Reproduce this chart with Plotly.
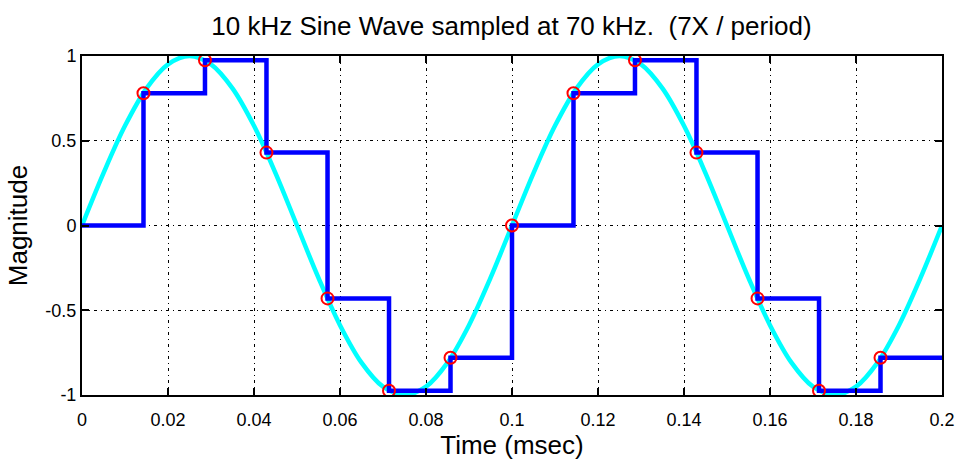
import plotly.graph_objects as go

# Continuous 10 kHz sine (time in msec), read every 0.005 ms
sine_t = [round(0.005 * i, 3) for i in range(41)]
sine_v = [0, 0.309, 0.588, 0.809, 0.951, 1, 0.951, 0.809, 0.588, 0.309,
          0, -0.309, -0.588, -0.809, -0.951, -1, -0.951, -0.809, -0.588, -0.309,
          0, 0.309, 0.588, 0.809, 0.951, 1, 0.951, 0.809, 0.588, 0.309,
          0, -0.309, -0.588, -0.809, -0.951, -1, -0.951, -0.809, -0.588, -0.309, 0]

# Samples at 70 kHz
sample_t = [0, 0.0143, 0.0286, 0.0429, 0.0571, 0.0714, 0.0857, 0.1,
            0.1143, 0.1286, 0.1429, 0.1571, 0.1714, 0.1857]
sample_v = [0, 0.78, 0.975, 0.43, -0.43, -0.975, -0.78, 0,
            0.78, 0.975, 0.43, -0.43, -0.975, -0.78]
end_t = 0.2

x_ticks = [0, 0.02, 0.04, 0.06, 0.08, 0.1, 0.12, 0.14, 0.16, 0.18, 0.2]
x_labels = ["0", "0.02", "0.04", "0.06", "0.08", "0.1", "0.12", "0.14", "0.16", "0.18", "0.2"]
y_ticks = [-1, -0.5, 0, 0.5, 1]
y_labels = ["-1", "-0.5", "0", "0.5", "1"]

font = "Liberation Sans, Arial, sans-serif"

fig = go.Figure()
fig.add_trace(go.Scatter(x=sine_t, y=sine_v, mode="lines",
                         line=dict(color="#00ffff", width=4.5, shape="spline"),
                         showlegend=False))
fig.add_trace(go.Scatter(x=sample_t + [end_t], y=sample_v + [sample_v[-1]], mode="lines",
                         line=dict(color="#0000ff", width=4.5, shape="hv"),
                         showlegend=False))
fig.add_trace(go.Scatter(x=sample_t[1:], y=sample_v[1:], mode="markers",
                         marker=dict(symbol="circle-open", size=12, color="#ff0000",
                                     line=dict(width=2, color="#ff0000")),
                         showlegend=False))

axis_common = dict(showline=True, linecolor="black", linewidth=2, mirror="allticks",
                   ticks="inside", ticklen=7, tickcolor="black", tickwidth=1.5,
                   showgrid=True, gridcolor="black", gridwidth=1.2,
                   griddash="3px,4px,1px,4px", zeroline=False, automargin=False,
                   tickfont=dict(family=font, size=18, color="black"))

fig.update_xaxes(range=[0, 0.2], tickvals=x_ticks, ticktext=x_labels,
                 ticklabelstandoff=7,
                 title=dict(text="Time (msec)", font=dict(family=font, size=26, color="black"),
                            standoff=4),
                 **axis_common)
fig.update_yaxes(range=[-1, 1], tickvals=y_ticks, ticktext=y_labels,
                 title=dict(text="Magnitude", font=dict(family=font, size=26, color="black"),
                            standoff=10),
                 **axis_common)

fig.update_layout(
    width=956, height=463,
    margin=dict(l=82, r=14, t=56, b=68),
    paper_bgcolor="white", plot_bgcolor="white",
    title=dict(text="10 kHz Sine Wave sampled at 70 kHz.  (7X / period)",
               font=dict(family=font, size=26, color="black"),
               x=0.535, xanchor="center", y=0.945, yanchor="middle"),
)

fig.write_html("out.html")
